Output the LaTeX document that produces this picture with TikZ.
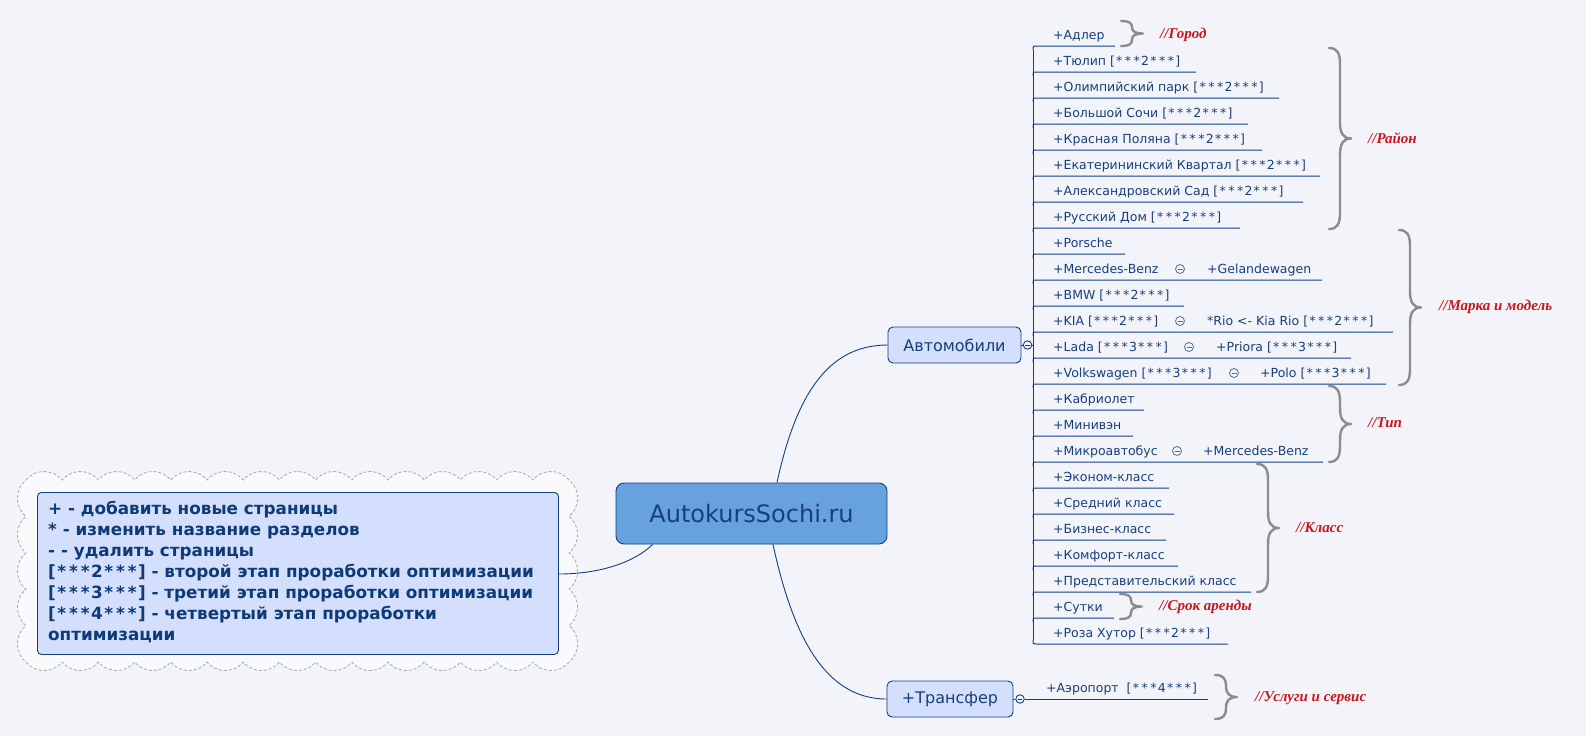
\documentclass[tikz,border=0pt]{standalone}
\usepackage{fontspec}
\setmainfont{DejaVu Sans}
\newfontfamily\labfont{Liberation Serif}
\usetikzlibrary{calc}
\definecolor{bg}{HTML}{F3F4FA}
\definecolor{cloudfill}{HTML}{FAFAFC}
\definecolor{cloudline}{HTML}{A8A8A8}
\definecolor{dblue}{HTML}{0F3F86}
\definecolor{tblue}{HTML}{173F7C}
\definecolor{nblue}{HTML}{0E3A78}
\definecolor{lightfill}{HTML}{D3DFFC}
\definecolor{rootfill}{HTML}{67A2DE}
\definecolor{labred}{HTML}{C8161D}
\definecolor{bracegray}{HTML}{8C8C8C}
\definecolor{minusblue}{HTML}{4A6FA5}
\newcommand\astx{\makebox[0.7em]{*}}
\newcommand\stg[1]{[\astx\astx\astx#1\astx\astx\astx]}
\tikzset{
  item/.style={anchor=base west,inner sep=0pt,text=tblue,font=\fontsize{12.5}{15}\selectfont},
  notetxt/.style={anchor=base west,inner sep=0pt,text=nblue,font=\fontsize{16.8}{21}\selectfont\bfseries},
  branch/.style={draw=dblue,line width=1pt},
  conn/.style={draw=dblue,line width=0.9pt},
  minussign/.style={circle,draw=minusblue,line width=0.8pt,minimum size=9pt,inner sep=0pt,
    path picture={\draw[minusblue,line width=0.8pt] ([xshift=-2.5pt]path picture bounding box.center) -- ([xshift=2.5pt]path picture bounding box.center);}},
  collapse/.style={circle,draw=dblue,fill=bg,line width=0.9pt,minimum size=8.5pt,inner sep=0pt,
    path picture={\draw[dblue,line width=0.8pt] ([xshift=-2.3pt]path picture bounding box.center) -- ([xshift=2.3pt]path picture bounding box.center);}},
  bracestyle/.style={draw=bracegray,line width=2.4pt,line cap=round,line join=round},
  lab/.style={anchor=west,inner sep=0pt,text=labred,font=\labfont\fontsize{15}{17}\selectfont\bfseries\itshape},
  topic/.style={draw=dblue,line width=0.9pt,fill=lightfill,rounded corners=5pt,text=tblue,font=\fontsize{16}{18}\selectfont,inner sep=0pt}
}
\newcommand\rowitem[3]{%
  \pgfmathsetmacro\ry{46+26*#1}
  \node[item] (r#1) at (1053,\ry-7) {#3};
  \coordinate (e#1) at (#2,\ry);
  \coordinate (j#1) at (1033,\ry);
  \draw[branch] ($(j#1)+(0,4)$) .. controls (j#1) .. ($(j#1)+(4,0)$) -- (e#1);
}
\newcommand\rowsub[4]{% row, circle x, text x, text
  \pgfmathsetmacro\ry{46+26*#1}
  \node[minussign] (c#1) at (#2,\ry-11) {};
  \node[item] (s#1) at (#3,\ry-7) {#4};
}
\newcommand\cbrace[4]{% name, x, ytop, ybot
  \pgfmathsetmacro\bx{#2}\pgfmathsetmacro\bt{#3}\pgfmathsetmacro\bb{#4}
  \pgfmathsetmacro\bm{(\bt+\bb)/2}
  \pgfmathsetmacro\bc{min(0.25*(\bb-\bt),16)}
  \draw[bracestyle] (\bx,\bt) .. controls (\bx+8,\bt) and (\bx+11,\bt+0.3*\bc) .. (\bx+11,\bt+\bc)
    -- (\bx+11,\bm-\bc) .. controls (\bx+11,\bm-0.35*\bc) and (\bx+14,\bm) .. (\bx+22,\bm)
    .. controls (\bx+14,\bm) and (\bx+11,\bm+0.35*\bc) .. (\bx+11,\bm+\bc)
    -- (\bx+11,\bb-\bc) .. controls (\bx+11,\bb-0.3*\bc) and (\bx+8,\bb) .. (\bx,\bb);
  \coordinate (#1) at (\bx+22,\bm);
}
\begin{document}
\begin{tikzpicture}[x=1pt,y=-1pt]
\useasboundingbox (0,0) rectangle (1586,736);
\fill[bg] (0,0) rectangle (1586,736);

% cloud around note
\draw[cloudline,fill=cloudfill,line width=0.8pt,dash pattern=on 3pt off 2pt]
  (26,480)
  \foreach \i in {1,...,15}{ arc[start angle=-140,end angle=-40,radius=23.63] }
  \foreach \i in {1,...,5}{ arc[start angle=-50,end angle=50,radius=23.76] }
  \foreach \i in {1,...,15}{ arc[start angle=40,end angle=140,radius=23.63] }
  \foreach \i in {1,...,5}{ arc[start angle=130,end angle=230,radius=23.76] }
  -- cycle;

% note box
\node[draw=dblue,line width=0.9pt,fill=lightfill,rounded corners=4pt,minimum width=521pt,minimum height=162pt,inner sep=0pt,anchor=north west] (note) at (37,492) {};
\node[notetxt] (n1) at (48,514) {+ - добавить новые страницы};
\node[notetxt] (n2) at (48,535) {* - изменить название разделов};
\node[notetxt] (n3) at (48,556) {- - удалить страницы};
\node[notetxt] (n4) at (48,577) {\stg{2} - второй этап проработки оптимизации};
\node[notetxt] (n5) at (48,598) {\stg{3} - третий этап проработки оптимизации};
\node[notetxt] (n6) at (48,619) {\stg{4} - четвертый этап проработки};
\node[notetxt] (n7) at (48,640) {оптимизации};

% root
\node[draw=dblue,line width=0.9pt,fill=rootfill,rounded corners=8pt,minimum width=271pt,minimum height=61pt,inner sep=0pt,text=tblue,font=\fontsize{24}{28}\selectfont] (root) at (751.5,513.5) {AutokursSochi.ru};

% main topics
\node[topic,minimum width=133pt,minimum height=36pt] (auto) at (954.5,345) {Автомобили};
\node[topic,minimum width=126pt,minimum height=36pt] (transfer) at (950,699) {+Трансфер};

% connectors from root
\draw[conn] (note.east |- 0,574) .. controls (600,574) and (635,562) .. ($(root.south west)+(37,0)$);
\draw[conn] ($(root.north)+(25.5,0)$) .. controls (795,400) and (825,345) .. (auto.west);
\draw[conn] ($(root.south)+(21.5,0)$) .. controls (791,627) and (821,699) .. (transfer.west);

% collapse markers
\node[collapse] (ca) at (1027.5,345) {};
\node[collapse] (ct) at (1020,699) {};
\draw[conn] (auto.east) -- (ca.west);
\draw[conn] (transfer.east) -- (ct.west);
\coordinate (trunkA) at (1033,345);
\draw[branch] (ca.east) -- (trunkA);

% trunk
\coordinate (ttop) at (1033,50);
\coordinate (tbot) at (1033,640);
\draw[branch] (ttop) -- (tbot);

% rows
\rowitem{0}{1115}{+Адлер}
\rowitem{1}{1196}{+Тюлип \stg{2}}
\rowitem{2}{1279}{+Олимпийский парк \stg{2}}
\rowitem{3}{1248}{+Большой Сочи \stg{2}}
\rowitem{4}{1262}{+Красная Поляна \stg{2}}
\rowitem{5}{1320}{+Екатерининский Квартал \stg{2}}
\rowitem{6}{1303}{+Александровский Сад \stg{2}}
\rowitem{7}{1240}{+Русский Дом \stg{2}}
\rowitem{8}{1125}{+Porsche}
\rowitem{9}{1322}{+Mercedes-Benz}
\rowitem{10}{1184}{+BMW \stg{2}}
\rowitem{11}{1393}{+KIA \stg{2}}
\rowitem{12}{1351}{+Lada \stg{3}}
\rowitem{13}{1386}{+Volkswagen \stg{3}}
\rowitem{14}{1144}{+Кабриолет}
\rowitem{15}{1133}{+Минивэн}
\rowitem{16}{1323}{+Микроавтобус}
\rowitem{17}{1169}{+Эконом-класс}
\rowitem{18}{1174}{+Средний класс}
\rowitem{19}{1166}{+Бизнес-класс}
\rowitem{20}{1178}{+Комфорт-класс}
\rowitem{21}{1251}{+Представительский класс}
\rowitem{22}{1114}{+Сутки}
% last row with downward corner
\node[item] (r23) at (1053,637) {+Роза Хутор \stg{2}};
\coordinate (e23) at (1228,644);
\coordinate (j23) at (1033,644);
\draw[branch] ($(j23)+(0,-4)$) .. controls (j23) .. ($(j23)+(4,0)$) -- (e23);

% sub items
\rowsub{9}{1180}{1207}{+Gelandewagen}
\rowsub{11}{1180}{1207}{*Rio <- Kia Rio \stg{2}}
\rowsub{12}{1189}{1216}{+Priora \stg{3}}
\rowsub{13}{1234}{1260}{+Polo \stg{3}}
\rowsub{16}{1177}{1203}{+Mercedes-Benz}

% transfer child
\node[item] (air) at (1046,692) {+Аэропорт~ \stg{4}};
\coordinate (airend) at (1208,699);
\draw[branch] (ct.east) -- (airend);

% braces
\cbrace{b0}{1121}{21}{46}
\cbrace{b1}{1329}{48}{229}
\cbrace{b2}{1399}{230}{385}
\cbrace{b3}{1329}{386}{462}
\cbrace{b4}{1257}{464}{592}
\cbrace{b5}{1120}{594}{619}
\cbrace{b6}{1215}{675}{719}

% labels
\node[lab] (l0) at (1160,35) {//Город};
\node[lab] (l1) at (1368,138) {//Район};
\node[lab] (l2) at (1439,307) {//Марка и модель};
\node[lab] (l3) at (1368,423) {//Тип};
\node[lab] (l4) at (1296,528) {//Класс};
\node[lab] (l5) at (1159,607) {//Срок аренды};
\node[lab] (l6) at (1255,698) {//Услуги и сервис};
\end{tikzpicture}
\end{document}
